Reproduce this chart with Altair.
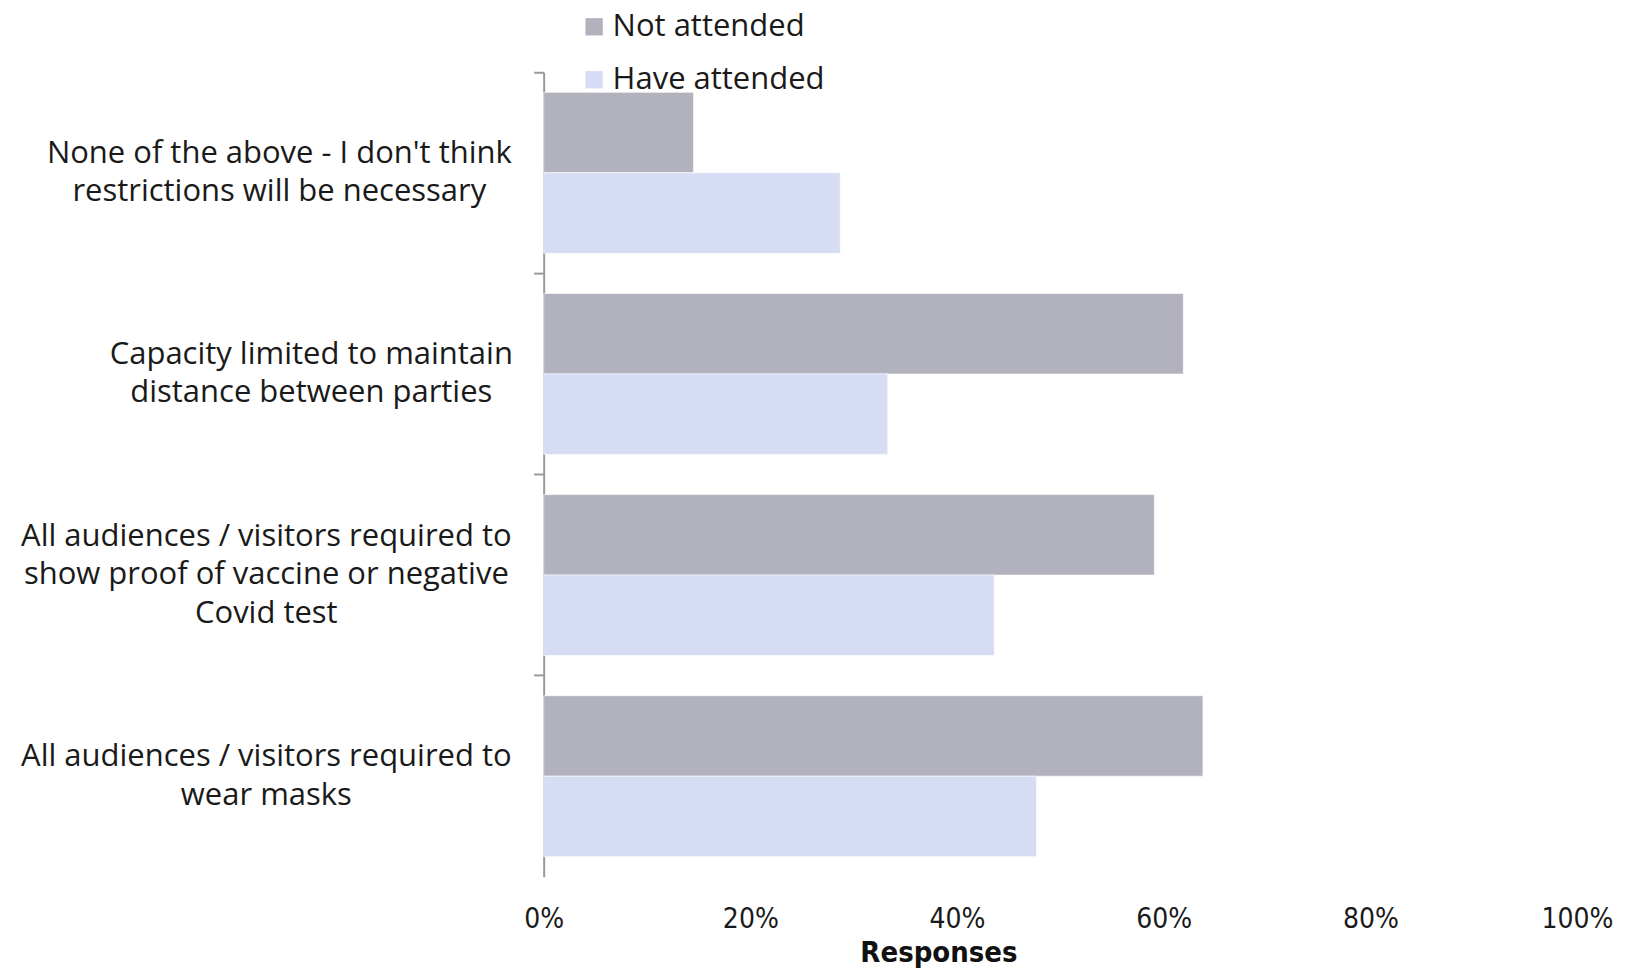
import altair as alt
import pandas as pd

categories = [
    "None of the above - I don't think|restrictions will be necessary",
    "Capacity limited to maintain|distance between parties",
    "All audiences / visitors required to|show proof of vaccine or negative|Covid test",
    "All audiences / visitors required to|wear masks",
]
series = ["Not attended", "Have attended"]
not_attended = [0.145, 0.619, 0.591, 0.638]
have_attended = [0.287, 0.333, 0.436, 0.477]
x_ticks = [0, 0.2, 0.4, 0.6, 0.8, 1.0]
colors = ["#B2B1BE", "#D5DCF3"]

rows = []
for c, a, b in zip(categories, not_attended, have_attended):
    rows.append({"category": c, "group": series[0], "value": a})
    rows.append({"category": c, "group": series[1], "value": b})
df = pd.DataFrame(rows)

label_font = "Open Sans"
tick_font = "DejaVu Sans Condensed, Liberation Sans Narrow, Lato, sans-serif"

pad_cond = {
    "condition": [
        {"test": f"datum.value === {categories[0]!r}", "value": 255},
        {"test": f"datum.value === {categories[1]!r}", "value": 223},
    ],
    "value": 268,
}
offset_cond = {
    "condition": [
        {"test": f"datum.value === {categories[2]!r}", "value": -38.5},
    ],
    "value": -19,
}

bars = alt.Chart(df).mark_bar(stroke="white", strokeWidth=0.6).encode(
    x=alt.X(
        "value:Q",
        scale=alt.Scale(domain=[0, 1], nice=False),
        axis=alt.Axis(
            values=x_ticks,
            format=".0%",
            grid=False,
            domain=False,
            ticks=False,
            labelFont=tick_font,
            labelFontSize=28,
            labelColor="#1a1a1a",
            labelPadding=29,
            labelFlush=False,
            title="Responses",
            titleFont=tick_font,
            titleFontSize=29,
            titleFontWeight="bold",
            titleColor="#111111",
            titleX=395,
            titleY=76,
            titleAnchor="start",
            titleAlign="center",
            titleBaseline="middle",
        ),
    ),
    y=alt.Y(
        "category:N",
        sort=categories,
        scale=alt.Scale(paddingInner=0, paddingOuter=0),
        axis=alt.Axis(
            title=None,
            bandPosition=0,
            domainColor="#9a9a9a",
            domainWidth=2,
            tickColor="#9a9a9a",
            tickWidth=2,
            tickSize=10,
            labelExpr="split(datum.label, '|')",
            labelAlign="center",
            labelBaseline="middle",
            labelPadding=pad_cond,
            labelOffset=offset_cond,
            labelFont=label_font,
            labelFontSize=31,
            labelLineHeight=38.5,
            labelColor="#1a1a1a",
            labelLimit=0,
        ),
    ),
    yOffset=alt.YOffset(
        "group:N",
        sort=series,
        scale=alt.Scale(paddingOuter=0.25, paddingInner=0),
    ),
    color=alt.Color(
        "group:N",
        sort=series,
        scale=alt.Scale(domain=series, range=colors),
        legend=alt.Legend(
            title=None,
            orient="none",
            legendX=35,
            legendY=-61,
            symbolType="square",
            symbolSize=300,
            symbolStrokeWidth=0,
            labelFont=label_font,
            labelFontSize=31,
            labelColor="#1a1a1a",
            labelOffset=3,
            labelLimit=0,
            rowPadding=21,
        ),
    ),
)

chart = bars.properties(
    width=1034,
    height=805,
    autosize=alt.AutoSizeParams(type="none"),
    padding={"left": 536, "top": 64, "right": 40, "bottom": 91},
).configure_view(stroke=None)

chart.save("out.html", embed_options={"renderer": "svg", "actions": False})
